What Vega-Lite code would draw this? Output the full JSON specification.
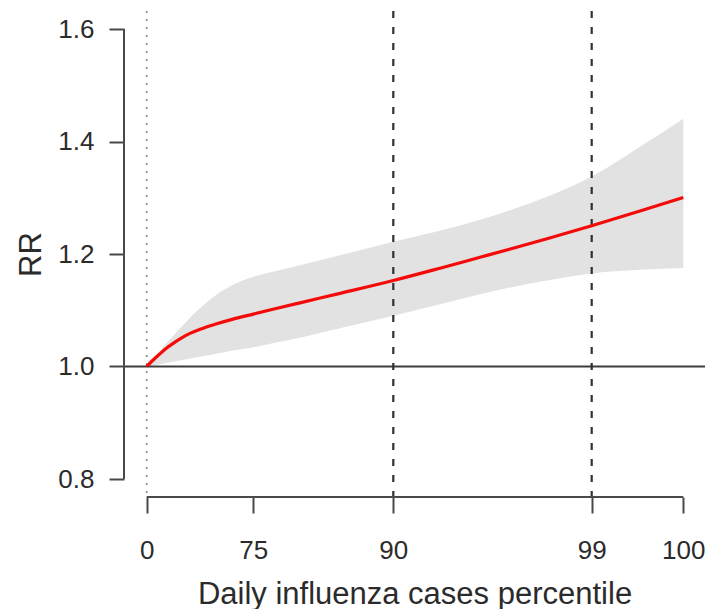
{
  "$schema": "https://vega.github.io/schema/vega-lite/v6.json",
  "width": 581,
  "height": 486,
  "autosize": {"type": "none"},
  "padding": {"left": 124, "top": 11, "right": 3, "bottom": 112},
  "background": "white",
  "config": {
    "view": {"stroke": null},
    "font": "Liberation Sans",
    "axis": {"grid": false}
  },
  "datasets": {
    "curve": [
      {"cases": 0, "rr": 1.0, "lo": 1.0, "hi": 1.0},
      {"cases": 8.3, "rr": 1.0146, "lo": 1.0021, "hi": 1.0172},
      {"cases": 13.3, "rr": 1.0226, "lo": 1.0039, "hi": 1.0279},
      {"cases": 20.3, "rr": 1.0332, "lo": 1.0066, "hi": 1.0421},
      {"cases": 28.3, "rr": 1.0434, "lo": 1.0092, "hi": 1.0581},
      {"cases": 36.3, "rr": 1.0523, "lo": 1.0119, "hi": 1.0732},
      {"cases": 43.3, "rr": 1.0588, "lo": 1.0142, "hi": 1.0866},
      {"cases": 53.3, "rr": 1.0661, "lo": 1.0172, "hi": 1.1035},
      {"cases": 68.3, "rr": 1.075, "lo": 1.0222, "hi": 1.1257},
      {"cases": 86.3, "rr": 1.0843, "lo": 1.0283, "hi": 1.1452},
      {"cases": 106.6, "rr": 1.0932, "lo": 1.0341, "hi": 1.1595},
      {"cases": 128.3, "rr": 1.1026, "lo": 1.0421, "hi": 1.1692},
      {"cases": 153.3, "rr": 1.1132, "lo": 1.051, "hi": 1.1799},
      {"cases": 193.3, "rr": 1.13, "lo": 1.0679, "hi": 1.1977},
      {"cases": 246.6, "rr": 1.1529, "lo": 1.0901, "hi": 1.2217},
      {"cases": 293.3, "rr": 1.1748, "lo": 1.1105, "hi": 1.2412},
      {"cases": 333.3, "rr": 1.1941, "lo": 1.1285, "hi": 1.2608},
      {"cases": 366.3, "rr": 1.2101, "lo": 1.1415, "hi": 1.2795},
      {"cases": 400.3, "rr": 1.227, "lo": 1.153, "hi": 1.3017},
      {"cases": 445, "rr": 1.2501, "lo": 1.1655, "hi": 1.3378},
      {"cases": 493.3, "rr": 1.2763, "lo": 1.1719, "hi": 1.3906},
      {"cases": 536.6, "rr": 1.3004, "lo": 1.1749, "hi": 1.4404}
    ],
    "refs": [
      {"cases": 246.6, "pct": 90},
      {"cases": 445, "pct": 99}
    ]
  },
  "layer": [
    {
      "data": {"name": "curve"},
      "mark": {"type": "area", "color": "#e2e2e2", "opacity": 1, "interpolate": "monotone"},
      "encoding": {
        "x": {
          "field": "cases", "type": "quantitative",
          "scale": {"domain": [-22.7, 558.3], "nice": false, "zero": false},
          "axis": {
            "values": [0, 106.6, 246.6, 445, 536.6],
            "labelExpr": "datum.value < 50 ? '0' : datum.value < 150 ? '75' : datum.value < 300 ? '90' : datum.value < 500 ? '99' : '100'",
            "domain": false,
            "tickSize": 16, "tickWidth": 2, "tickColor": "#484848",
            "labelFontSize": 26, "labelColor": "#2b2b2b", "labelPadding": 24,
            "labelFlush": false, "labelOverlap": false,
            "title": "Daily influenza cases percentile",
            "titleFontSize": 31, "titleFontWeight": "normal", "titleColor": "#2b2b2b",
            "titlePadding": 16
          }
        },
        "y": {
          "field": "lo", "type": "quantitative",
          "scale": {"domain": [0.768, 1.632], "nice": false, "zero": false},
          "axis": {
            "values": [0.8, 1.0, 1.2, 1.4, 1.6],
            "format": ".1f",
            "domain": false,
            "tickSize": 15, "tickWidth": 2, "tickColor": "#484848",
            "labelFontSize": 26, "labelColor": "#2b2b2b", "labelPadding": 15,
            "labelFlush": false, "labelOverlap": false,
            "title": "RR",
            "titleFontSize": 31, "titleFontWeight": "normal", "titleColor": "#2b2b2b",
            "titlePadding": 10
          }
        },
        "y2": {"field": "hi"}
      }
    },
    {
      "data": {"values": [{"cases": 0}]},
      "mark": {"type": "rule", "color": "#8c8c8c", "strokeWidth": 1.7, "strokeDash": [2, 6]},
      "encoding": {"x": {"field": "cases", "type": "quantitative"}}
    },
    {
      "data": {"values": [{"lo": 1.0}]},
      "mark": {"type": "rule", "color": "#3c3c3c", "strokeWidth": 2},
      "encoding": {"y": {"field": "lo", "type": "quantitative"}}
    },
    {
      "data": {"name": "refs"},
      "mark": {"type": "rule", "color": "#303030", "strokeWidth": 2.2, "strokeDash": [7, 9]},
      "encoding": {"x": {"field": "cases", "type": "quantitative"}}
    },
    {
      "data": {"name": "curve"},
      "mark": {"type": "line", "color": "#f50a0a", "strokeWidth": 3.2, "interpolate": "monotone"},
      "encoding": {
        "x": {"field": "cases", "type": "quantitative"},
        "y": {"field": "rr", "type": "quantitative"}
      }
    },
    {
      "data": {"values": [{"lo": 0.8, "hi": 1.6, "cases": -22.7}]},
      "mark": {"type": "rule", "color": "#4a4a4a", "strokeWidth": 2},
      "encoding": {
        "x": {"field": "cases", "type": "quantitative"},
        "y": {"field": "lo", "type": "quantitative"},
        "y2": {"field": "hi"}
      }
    },
    {
      "data": {"values": [{"cases": 0, "end": 536.6, "lo": 0.768}]},
      "mark": {"type": "rule", "color": "#4a4a4a", "strokeWidth": 2},
      "encoding": {
        "x": {"field": "cases", "type": "quantitative"},
        "x2": {"field": "end"},
        "y": {"field": "lo", "type": "quantitative"}
      }
    }
  ]
}
